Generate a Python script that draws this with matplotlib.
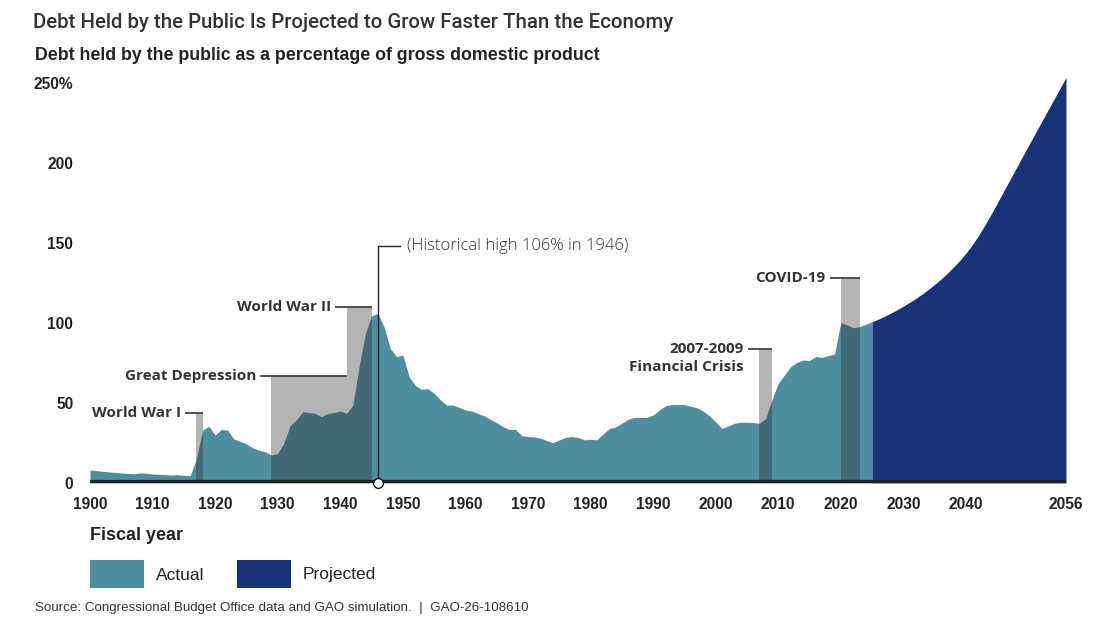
import numpy as np
import matplotlib.pyplot as plt
from matplotlib.patches import Rectangle

# Debt held by the public, % of GDP
actual_years = np.arange(1900, 2026)
actual_debt = [
    8.2, 7.7, 7.3, 7.0, 6.6, 6.3, 6.0, 5.8, 6.3, 6.1,          # 1900s
    5.6, 5.4, 5.2, 5.0, 5.2, 4.9, 4.5, 15.0, 33.0, 35.5,       # 1910s
    30.0, 33.5, 33.0, 27.5, 26.0, 24.5, 22.0, 20.5, 19.5, 17.5,  # 1920s
    18.5, 25.0, 36.0, 39.5, 44.5, 44.0, 43.5, 41.5, 43.5, 44.0,  # 1930s
    45.0, 43.5, 48.5, 72.5, 93.0, 104.5, 106.0, 97.5, 84.0, 79.0,  # 1940s
    80.0, 66.5, 61.0, 58.5, 59.0, 56.0, 52.0, 48.7, 48.7, 47.3,  # 1950s
    45.6, 45.0, 43.5, 42.0, 39.8, 37.7, 35.2, 33.5, 33.5, 29.6,  # 1960s
    29.0, 28.8, 28.0, 26.5, 25.2, 26.9, 28.5, 29.0, 28.5, 27.0,  # 1970s
    27.3, 27.0, 30.6, 34.0, 35.0, 37.3, 39.8, 41.0, 41.0, 41.0,  # 1980s
    42.5, 45.6, 48.3, 49.0, 49.0, 49.0, 48.0, 47.0, 45.0, 42.0,  # 1990s
    38.3, 34.0, 35.6, 37.3, 38.0, 38.0, 37.8, 37.3, 40.4, 52.0,  # 2000s
    62.3, 67.5, 72.7, 75.4, 76.9, 76.5, 79.0, 78.5, 79.6, 80.6,  # 2010s
    100.2, 98.8, 97.0, 97.7, 99.2, 100.8,                        # 2020-2025
]

proj_years = np.arange(2025, 2057)
proj_debt = [
    100.8, 102.4, 104.2, 106.2, 108.3, 110.5, 112.9, 115.4, 118.1, 121.0,
    124.1, 127.4, 131.0, 134.9, 139.0, 143.6, 148.8, 154.6, 161.0, 167.8,
    174.9, 182.1, 189.3, 196.5, 203.7, 210.9, 218.0, 225.1, 232.2, 239.3,
    246.4, 253.5,
]

# shaded events: label, start year, end year, bracket height (%)
event_labels = ["World War I", "Great Depression", "World War II",
                "2007-2009\nFinancial Crisis", "COVID-19"]
event_start = [1917, 1929, 1941, 2007, 2020]
event_end = [1918, 1941, 1945, 2009, 2023]
event_top = [43.6, 66.9, 109.8, 83.6, 128.0]

xtick_years = [1900, 1910, 1920, 1930, 1940, 1950, 1960, 1970, 1980,
               1990, 2000, 2010, 2020, 2030, 2040, 2056]
ytick_vals = [0, 50, 100, 150, 200, 250]
ytick_labels = ["0", "50", "100", "150", "200", "250%"]

TEAL = "#4e8ea1"
NAVY = "#17347b"
TXT = "#333333"
W, H = 1102, 623

fig = plt.figure(figsize=(W / 100, H / 100), dpi=100)
ax = fig.add_axes([90 / W, 1 - 483 / H, 976 / W, 400 / H])

ax.fill_between(actual_years, actual_debt, color=TEAL, lw=0, zorder=2)
ax.fill_between(proj_years, proj_debt, color=NAVY, lw=0, zorder=2,
                clip_on=False)

# event brackets
lead = 1.8
ax.bar(event_start, event_top, width=np.subtract(event_end, event_start),
       align="edge", color="#282828", alpha=0.35, lw=0, zorder=3)
for lab, s, e, top in zip(event_labels, event_start, event_end, event_top):
    ax.plot([s - lead, e], [top, top], color="#444444", lw=1.3, zorder=4,
            solid_capstyle="butt")
    multi = "\n" in lab
    ax.annotate(lab, (s - lead, top), xytext=(-3, 5.0 if multi else 0),
                textcoords="offset points", ha="right",
                va="top" if multi else "center", ma="right",
                fontsize=11, fontweight="bold", family="Open Sans",
                color=TXT, linespacing=1.3, zorder=5)

# historical high callout
i_peak = int(np.argmax(actual_debt))
peak_year, peak_val = actual_years[i_peak], actual_debt[i_peak]
ax.plot([peak_year, peak_year, peak_year + 3.6], [0, 148, 148],
        color="#222222", lw=1.0, zorder=6)
ax.text(peak_year + 4.7, 148, f"(Historical high {peak_val:.0f}% in {peak_year})",
        ha="left", va="center", fontsize=12, fontweight="light",
        family="Open Sans", color="#333333")

# baseline bar and marker
ax.axhline(0, color="#222222", lw=4.5, zorder=6)
ax.plot([peak_year], [0], "o", ms=7, mfc="white", mec="#111111", mew=1.0,
        zorder=7, clip_on=False)

ax.set_xlim(1900, 2056)
ax.set_ylim(0, 250)
ax.set_xticks(xtick_years)
ax.set_yticks(ytick_vals, ytick_labels)
for s in ax.spines.values():
    s.set_visible(False)
ax.tick_params(length=0, labelsize=11.2, labelcolor="#222222")
ax.tick_params(axis="x", pad=10)
ax.tick_params(axis="y", pad=12)
for t in ax.get_xticklabels() + ax.get_yticklabels():
    t.set_fontweight("bold")
    t.set_family("Liberation Sans")

# titles
fig.text(33 / W, 1 - 22 / H,
         "Debt Held by the Public Is Projected to Grow Faster Than the Economy",
         family="Roboto", fontweight="medium", fontsize=14.7, color=TXT, va="center")
fig.text(35 / W, 1 - 54 / H,
         "Debt held by the public as a percentage of gross domestic product",
         family="Liberation Sans", fontweight="bold", fontsize=12.8, color="#222222",
         va="center_baseline")

# legend
fig.text(90 / W, 1 - 535 / H, "Fiscal year", family="Liberation Sans",
         fontweight="bold", fontsize=13, color="#222222", va="center")
for x0, col, lab in [(90, TEAL, "Actual"), (237, NAVY, "Projected")]:
    fig.add_artist(Rectangle((x0 / W, 1 - 588 / H), 54 / W, 28 / H,
                             transform=fig.transFigure, color=col, lw=0))
    fig.text((x0 + 66) / W, 1 - 575 / H, lab, family="Liberation Sans",
             fontsize=12.5, color="#222222", va="center")

fig.text(35 / W, 1 - 608 / H,
         "Source: Congressional Budget Office data and GAO simulation.  |  GAO-26-108610",
         family="Liberation Sans", fontsize=9.6, color=TXT, va="center")

fig.savefig("out.png", dpi=100)
